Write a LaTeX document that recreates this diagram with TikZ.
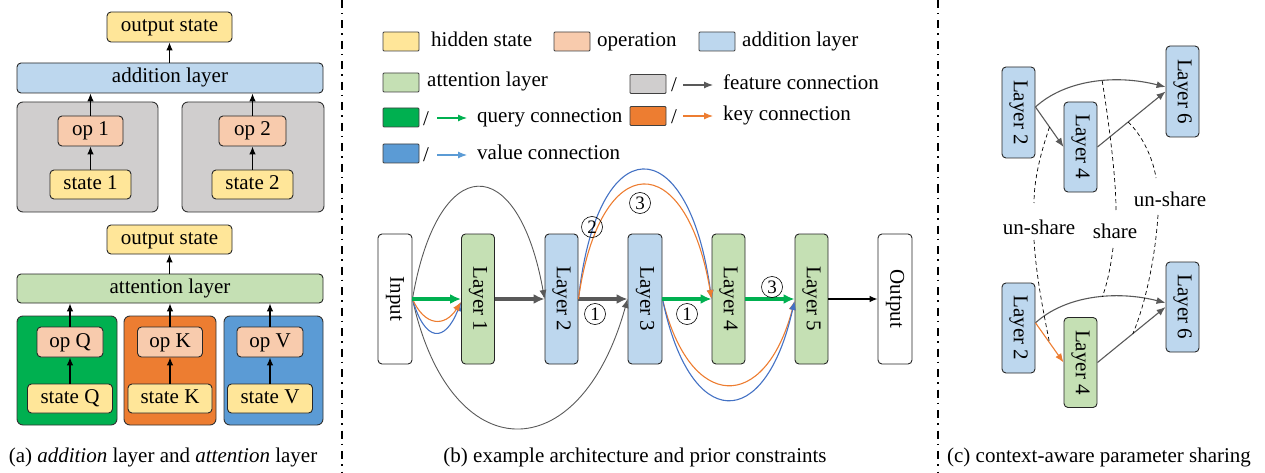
\documentclass[tikz,border=0pt]{standalone}
\usepackage{fontspec}
\usepackage{graphicx}
\setmainfont{Liberation Serif}
\usetikzlibrary{arrows.meta,calc}
\definecolor{cyel}{HTML}{FFE699}
\definecolor{cop}{HTML}{F8CBAD}
\definecolor{cadd}{HTML}{BDD7EE}
\definecolor{catt}{HTML}{C5E0B4}
\definecolor{cgray}{HTML}{D0CECE}
\definecolor{cq}{HTML}{00B050}
\definecolor{ck}{HTML}{ED7D31}
\definecolor{cv}{HTML}{5B9BD5}
\definecolor{cvline}{HTML}{4472C4}
\definecolor{cfeat}{HTML}{595959}
\newcommand\fs{\fontsize{21}{25}\selectfont}
\begin{document}
\begin{tikzpicture}[x=1pt,y=-1pt, font=\fs,
 bx/.style={draw=black!85, line width=0.9pt, rounded corners=4pt, inner sep=0pt, text height=14pt, text depth=4pt},
 vb/.style={draw=black!85, line width=0.9pt, rounded corners=4pt, inner sep=0pt},
 grp/.style={draw=black!80, line width=0.9pt, rounded corners=6pt, inner sep=0pt},
 lg/.style={draw=black!75, line width=0.9pt, inner sep=0pt, minimum width=36pt, minimum height=19pt, rounded corners=1pt},
 txt/.style={inner sep=0pt, anchor=west, text height=14pt, text depth=4pt},
 ka/.style={-{Latex[length=8pt,width=6.5pt]}, line width=1.1pt, black},
 thinarr/.style={-{Latex[length=9pt,width=7pt]}, line width=1.1pt},
 thickarr/.style={-{Latex[length=11pt,width=10pt]}, line width=3.2pt},
 num/.style={circle, draw, line width=0.6pt, inner sep=0pt, minimum size=21pt, font=\fontsize{19}{19}\selectfont},
 sep/.style={line width=1.5pt, dash pattern=on 8pt off 5pt on 1.5pt off 6pt},
 dsh/.style={line width=0.7pt, dash pattern=on 4pt off 3pt},
]
\useasboundingbox (0,0) rectangle (1265,473);

% ---------------- panel (a) ----------------
\node[grp, fill=cgray, minimum width=141pt, minimum height=110pt] (g1) at (87.5,157) {};
\node[grp, fill=cgray, minimum width=142pt, minimum height=110pt] (g2) at (253,157) {};
\node[bx, fill=cyel, minimum width=125pt, minimum height=30pt] (o1) at (169.5,27) {output state};
\node[bx, fill=cadd, minimum width=306pt, minimum height=30pt] (add) at (170,78) {addition layer};
\node[bx, fill=cop, minimum width=65pt, minimum height=30pt] (op1) at (90.5,131) {op 1};
\node[bx, fill=cyel, minimum width=81pt, minimum height=29pt] (st1) at (90.5,184.5) {state 1};
\node[bx, fill=cop, minimum width=67pt, minimum height=30pt] (op2) at (252.5,131) {op 2};
\node[bx, fill=cyel, minimum width=81pt, minimum height=29pt] (st2) at (252.5,184.5) {state 2};
\draw[ka] (st1) -- (op1);
\draw[ka] (st2) -- (op2);
\draw[ka] (op1.north) -- (op1.north |- add.south);
\draw[ka] (op2.north) -- (op2.north |- add.south);
\draw[ka] (add.north -| o1.south) -- (o1.south);

\node[grp, fill=cq, minimum width=100pt, minimum height=109pt] (gQ) at (67,370.5) {};
\node[grp, fill=ck, minimum width=92pt, minimum height=109pt] (gK) at (170,370.5) {};
\node[grp, fill=cv, minimum width=99pt, minimum height=109pt] (gV) at (273.5,370.5) {};
\node[bx, fill=cyel, minimum width=125pt, minimum height=29pt] (o2) at (169.5,239.5) {output state};
\node[bx, fill=catt, minimum width=306pt, minimum height=29pt] (att) at (170,288.5) {attention layer};
\node[bx, fill=cop, minimum width=66pt, minimum height=30pt] (opQ) at (70,342) {op Q};
\node[bx, fill=cyel, minimum width=85pt, minimum height=29pt] (stQ) at (70,398.5) {state Q};
\node[bx, fill=cop, minimum width=65pt, minimum height=30pt] (opK) at (170,342) {op K};
\node[bx, fill=cyel, minimum width=84pt, minimum height=29pt] (stK) at (170,398.5) {state K};
\node[bx, fill=cop, minimum width=66pt, minimum height=30pt] (opV) at (270,342) {op V};
\node[bx, fill=cyel, minimum width=85pt, minimum height=29pt] (stV) at (270,398.5) {state V};
\draw[ka] (stQ) -- (opQ);
\draw[ka] (stK) -- (opK);
\draw[ka] (stV) -- (opV);
\draw[ka] (opQ.north) -- (opQ.north |- att.south);
\draw[ka] (opK.north) -- (opK.north |- att.south);
\draw[ka] (opV.north) -- (opV.north |- att.south);
\draw[ka] (att.north -| o2.south) -- (o2.south);
\node (capa) at (163,457) {(a) \textit{addition} layer and \textit{attention} layer};

% separators
\coordinate (s1t) at (342,0); \coordinate (s1b) at (342,473);
\draw[sep] (s1t) -- (s1b);
\coordinate (s2t) at (938,0); \coordinate (s2b) at (938,473);
\draw[sep] (s2t) -- (s2b);

% ---------------- panel (b) legend ----------------
\node[lg, fill=cyel] (k1) at (401,41.5) {};
\node[txt] (k1t) at (431,42) {hidden state};
\node[lg, fill=cop] (k2) at (572,41.5) {};
\node[txt] (k2t) at (597,42) {operation};
\node[lg, fill=cadd] (k3) at (717,41.5) {};
\node[txt] (k3t) at (742,42) {addition layer};
\node[lg, fill=catt] (k4) at (401,82.5) {};
\node[txt] (k4t) at (427,82) {attention layer};
\node[lg, fill=cgray] (k5) at (648,84) {};
\node[txt] (k5s) at (671,87) {/};
\coordinate (k5a) at (683,85); \coordinate (k5b) at (713,85);
\draw[thinarr, cfeat] (k5a) -- (k5b);
\node[txt] (k5t) at (723,85) {feature connection};
\node[lg, fill=cq] (k6) at (401,117.5) {};
\node[txt] (k6s) at (423,121) {/};
\coordinate (k6a) at (437,118); \coordinate (k6b) at (467,118);
\draw[thinarr, cq] (k6a) -- (k6b);
\node[txt] (k6t) at (477,118) {query connection};
\node[lg, fill=ck] (k7) at (648,116) {};
\node[txt] (k7s) at (671,119) {/};
\coordinate (k7a) at (683,116); \coordinate (k7b) at (713,116);
\draw[thinarr, ck] (k7a) -- (k7b);
\node[txt] (k7t) at (723,116) {key connection};
\node[lg, fill=cv] (k8) at (401,153.5) {};
\node[txt] (k8s) at (423,157) {/};
\coordinate (k8a) at (437,155); \coordinate (k8b) at (467,155);
\draw[thinarr, cv] (k8a) -- (k8b);
\node[txt] (k8t) at (477,155) {value connection};

% ---------------- panel (b) graph ----------------
\node[vb, fill=white, minimum width=34pt, minimum height=130pt] (in) at (395,299) {\rotatebox{-90}{Input}};
\node[vb, fill=catt, minimum width=33pt, minimum height=130pt] (l1) at (478,299) {\rotatebox{-90}{Layer 1}};
\node[vb, fill=cadd, minimum width=33pt, minimum height=130pt] (l2) at (561.5,299) {\rotatebox{-90}{Layer 2}};
\node[vb, fill=cadd, minimum width=34pt, minimum height=130pt] (l3) at (645,299) {\rotatebox{-90}{Layer 3}};
\node[vb, fill=catt, minimum width=33pt, minimum height=130pt] (l4) at (728.5,299) {\rotatebox{-90}{Layer 4}};
\node[vb, fill=catt, minimum width=33pt, minimum height=130pt] (l5) at (811.5,299) {\rotatebox{-90}{Layer 5}};
\node[vb, fill=white, minimum width=34pt, minimum height=130pt] (out) at (895,299) {\rotatebox{-90}{Output}};

\draw[thinarr, cfeat, line width=0.9pt] (in.east) .. controls (438,150) and (518,150) .. (l2.west);
\draw[thinarr, cfeat, line width=0.9pt] (in.east) .. controls (450,471) and (580,471) .. (l3.west);
\draw[thinarr, cvline] (in.east) .. controls (425,343) and (445,343) .. ($(l1.west)+(0,3)$);
\draw[thinarr, ck] (in.east) .. controls (425,327) and (445,327) .. ($(l1.west)+(0,3)$);
\draw[thickarr, cq] (in.east) -- (l1.west);
\draw[thickarr, cfeat] (l1.east) -- (l2.west);
\draw[thickarr, cfeat] (l2.east) -- (l3.west);
\draw[thinarr, cvline] (l2.east) .. controls (597,127) and (688,127) .. (l4.west);
\draw[thinarr, ck] (l2.east) .. controls (600,147) and (686,147) .. (l4.west);
\draw[thinarr, ck] (l3.east) .. controls (690,413) and (765,413) .. ($(l5.west)+(0,2)$);
\draw[thinarr, cvline] (l3.east) .. controls (690,433) and (765,433) .. ($(l5.west)+(0,2)$);
\draw[thickarr, cq] (l3.east) -- (l4.west);
\draw[thickarr, cq] (l4.east) -- (l5.west);
\draw[ka] (l5.east) -- (out.west);

\node[num] (n1) at (595,314) {1};
\node[num] (n2) at (687,314) {1};
\node[num] (n3) at (772,287) {3};
\node[num] (n4) at (640,203) {3};
\node[num] (n5) at (592,227) {2};

\node (capb) at (635,457) {(b) example architecture and prior constraints};

% ---------------- panel (c) ----------------
\node[vb, fill=cadd, minimum width=33pt, minimum height=91pt] (L2a) at (1018.5,112.5) {\rotatebox{-90}{Layer 2}};
\node[vb, fill=cadd, minimum width=33pt, minimum height=90pt] (L4a) at (1080.5,147) {\rotatebox{-90}{Layer 4}};
\node[vb, fill=cadd, minimum width=33pt, minimum height=91pt] (L6a) at (1182.5,91.5) {\rotatebox{-90}{Layer 6}};
\node[vb, fill=cadd, minimum width=33pt, minimum height=90pt] (L2b) at (1018.5,328) {\rotatebox{-90}{Layer 2}};
\node[vb, fill=catt, minimum width=33pt, minimum height=90pt] (L4b) at (1080.5,362.5) {\rotatebox{-90}{Layer 4}};
\node[vb, fill=cadd, minimum width=33pt, minimum height=90pt] (L6b) at (1182.5,307) {\rotatebox{-90}{Layer 6}};

\draw[thinarr, cfeat] (L2a.18) .. controls (1065,80) and (1115,74) .. coordinate[pos=0.57] (sA) (L6a.165);
\draw[thinarr, cfeat] (L2a.18) -- coordinate[pos=0.5] (uA) (L4a.west);
\draw[thinarr, cfeat] (L4a.east) -- coordinate[pos=0.45] (rA) (L6a.west);
\draw[thinarr, cfeat] (L2b.17) .. controls (1065,296) and (1115,290) .. coordinate[pos=0.57] (sB) (L6b.166);
\draw[thinarr, ck] (L2b.17) -- coordinate[pos=0.5] (uB) (L4b.west);
\draw[thinarr, cfeat] (L4b.east) -- coordinate[pos=0.52] (rB) (L6b.west);

\node (u1) at (1039,227) {un-share};
\node (sh) at (1115,231) {share};
\node (u2) at (1170,199) {un-share};
\coordinate (u1a) at (1034,203); \coordinate (u1b) at (1034,240);
\coordinate (sha) at (1116,210); \coordinate (shb) at (1113,248);
\coordinate (u2a) at (1156,178); \coordinate (u2b) at (1158,215);
\draw[dsh] (uA) .. controls (1040,155) and (1034,180) .. (u1a);
\draw[dsh] (u1b) .. controls (1036,275) and (1043,310) .. (uB);
\draw[dsh] (sA) .. controls (1110,130) and (1116,180) .. (sha);
\draw[dsh] (shb) .. controls (1111,265) and (1107,285) .. (sB);
\draw[dsh] (rA) .. controls (1142,135) and (1153,158) .. (u2a);
\draw[dsh] (u2b) .. controls (1155,260) and (1145,305) .. (rB);

\node (capc) at (1099,457) {(c) context-aware parameter sharing};
\end{tikzpicture}
\end{document}
